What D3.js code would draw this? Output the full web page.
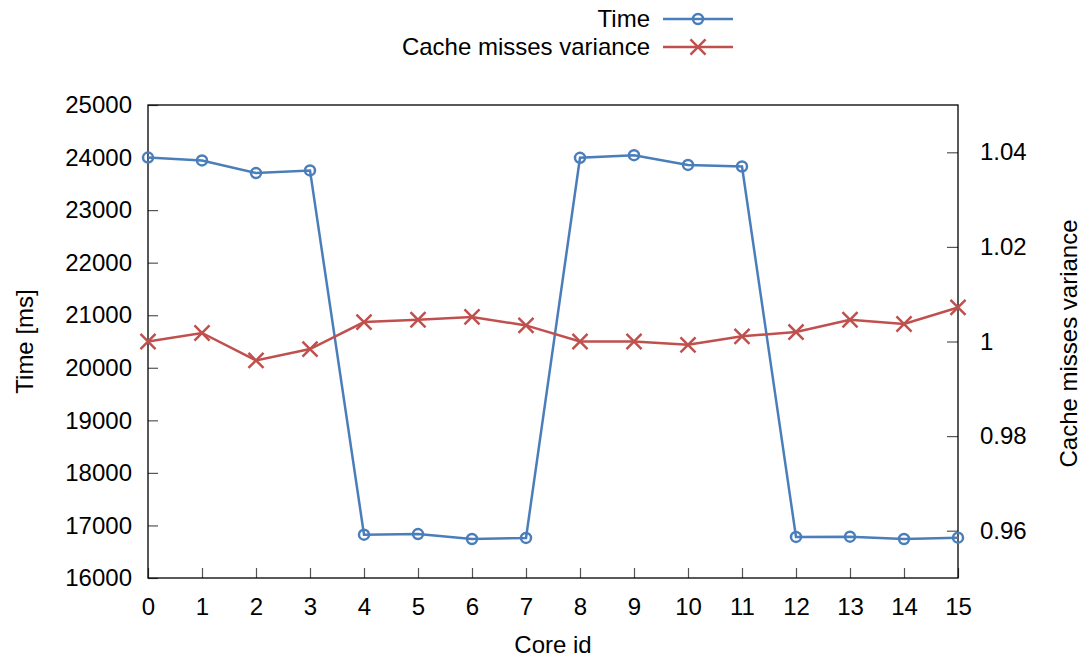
<!DOCTYPE html>
<html>
<head>
<meta charset="utf-8">
<script src="https://cdn.jsdelivr.net/npm/d3@7"></script>
<style>
  body { margin: 0; background: #fff; }
  text { font-family: "Liberation Sans", Arial, sans-serif; fill: #000; }
</style>
</head>
<body>
<div id="chart"></div>
<script>
// data
const coreIds = [0, 1, 2, 3, 4, 5, 6, 7, 8, 9, 10, 11, 12, 13, 14, 15];
const timeMs = [24000, 23945, 23705, 23755, 16825, 16835, 16742, 16762,
                23995, 24045, 23860, 23830, 16782, 16787, 16742, 16767];
const missVariance = [1.0000, 1.0018, 0.9960, 0.9984, 1.0041, 1.0046, 1.0052, 1.0034,
                      1.0000, 1.0000, 0.9993, 1.0011, 1.0020, 1.0046, 1.0037, 1.0072];
const leftTicks = [16000, 17000, 18000, 19000, 20000, 21000, 22000, 23000, 24000, 25000];
const rightTicks = [0.96, 0.98, 1.00, 1.02, 1.04];

const W = 1083, H = 659;
const margin = { left: 148, right: 125, top: 105, bottom: 81 };
const width = W - margin.left - margin.right;
const height = H - margin.top - margin.bottom;
const blue = "#4a7ebb", red = "#c0504d";
const fontSize = 24;

const svg = d3.select("#chart").append("svg")
  .attr("width", W).attr("height", H);

const g = svg.append("g")
  .attr("transform", "translate(" + margin.left + "," + margin.top + ")");

const x = d3.scaleLinear().domain([0, 15]).range([0, width]);
const y = d3.scaleLinear().domain([16000, 25000]).range([height, 0]);
const y2 = d3.scaleLinear().domain([0.95, 1.05]).range([height, 0]);

// axes, gnuplot style: ticks point inward
const xAxis = g.append("g")
  .attr("transform", "translate(0," + height + ")")
  .call(d3.axisBottom(x).tickValues(coreIds).tickFormat(d3.format("d")).tickSize(-10).tickPadding(20));
const yAxis = g.append("g")
  .call(d3.axisLeft(y).tickValues(leftTicks).tickFormat(d3.format("d")).tickSize(-10).tickPadding(16));
const y2Axis = g.append("g")
  .attr("transform", "translate(" + width + ",0)")
  .call(d3.axisRight(y2).tickValues(rightTicks).tickFormat(d => String(+d.toFixed(2))).tickSize(-11).tickPadding(22));

[xAxis, yAxis, y2Axis].forEach(a => {
  a.select(".domain").remove();
  a.selectAll(".tick line").attr("stroke", "#555").attr("stroke-width", 1.2);
  a.selectAll("text").attr("font-size", fontSize).attr("fill", "#000");
});

// border
g.append("rect")
  .attr("width", width).attr("height", height)
  .attr("fill", "none").attr("stroke", "#000").attr("stroke-width", 1.3);

// axis titles
svg.append("text")
  .attr("transform", "translate(33," + (margin.top + height / 2) + ") rotate(-90)")
  .attr("text-anchor", "middle").attr("font-size", fontSize)
  .text("Time [ms]");
svg.append("text")
  .attr("transform", "translate(1077," + (margin.top + height / 2 + 2) + ") rotate(-90)")
  .attr("text-anchor", "middle").attr("font-size", fontSize)
  .text("Cache misses variance");
svg.append("text")
  .attr("x", margin.left + width / 2).attr("y", 653)
  .attr("text-anchor", "middle").attr("font-size", fontSize)
  .text("Core id");

// time line + circle markers
const timeLine = d3.line().x((d, i) => x(coreIds[i])).y(d => y(d));
g.append("path").datum(timeMs)
  .attr("d", timeLine).attr("fill", "none")
  .attr("stroke", blue).attr("stroke-width", 2.5);
g.selectAll(".tm").data(timeMs).enter().append("circle")
  .attr("cx", (d, i) => x(coreIds[i])).attr("cy", d => y(d)).attr("r", 5)
  .attr("fill", "none").attr("stroke", blue).attr("stroke-width", 2.5);

// variance line + cross markers
const varLine = d3.line().x((d, i) => x(coreIds[i])).y(d => y2(d));
g.append("path").datum(missVariance)
  .attr("d", varLine).attr("fill", "none")
  .attr("stroke", red).attr("stroke-width", 2.5);
const cross = d3.symbol().type(d3.symbolTimes).size(150);
g.selectAll(".vm").data(missVariance).enter().append("path")
  .attr("d", cross)
  .attr("transform", (d, i) => "translate(" + x(coreIds[i]) + "," + y2(d) + ")")
  .attr("fill", "none").attr("stroke", red).attr("stroke-width", 2.5);

// legend
const legend = svg.append("g");
const entries = [
  { label: "Time", color: blue, mark: "circle", y: 19 },
  { label: "Cache misses variance", color: red, mark: "cross", y: 47 }
];
entries.forEach(e => {
  legend.append("text")
    .attr("x", 650).attr("y", e.y).attr("dy", "0.35em")
    .attr("text-anchor", "end").attr("font-size", fontSize)
    .text(e.label);
  legend.append("line")
    .attr("x1", 663).attr("x2", 733).attr("y1", e.y).attr("y2", e.y)
    .attr("stroke", e.color).attr("stroke-width", 2.5);
  if (e.mark === "circle") {
    legend.append("circle").attr("cx", 698).attr("cy", e.y).attr("r", 5)
      .attr("fill", "none").attr("stroke", e.color).attr("stroke-width", 2.5);
  } else {
    legend.append("path").attr("d", cross)
      .attr("transform", "translate(698," + e.y + ")")
      .attr("fill", "none").attr("stroke", e.color).attr("stroke-width", 2.5);
  }
});
</script>
</body>
</html>
